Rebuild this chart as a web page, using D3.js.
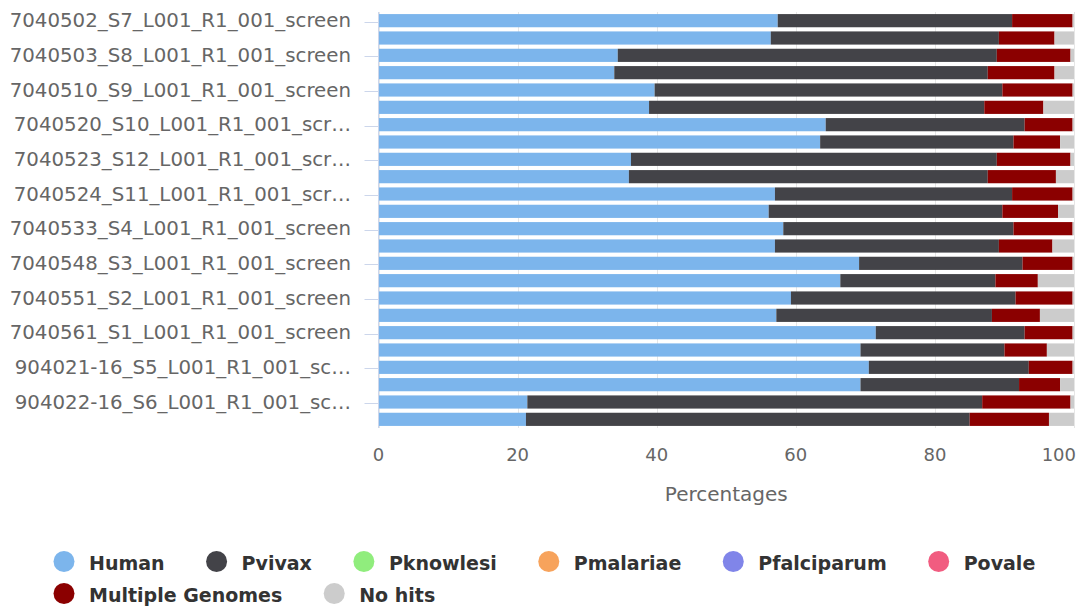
<!DOCTYPE html>
<html>
<head>
<meta charset="utf-8">
<script src="https://cdn.jsdelivr.net/npm/d3@7"></script>
<style>
  html, body { margin: 0; padding: 0; background: #fff; }
  svg { display: block; font-family: "DejaVu Sans", sans-serif; }
</style>
</head>
<body>
<svg id="chart" width="1086" height="607"></svg>
<script>
const categories = [
  "7040502_S7_L001_R1_001_screen", "7040502_S7_L001_R2_001_screen",
  "7040503_S8_L001_R1_001_screen", "7040503_S8_L001_R2_001_screen",
  "7040510_S9_L001_R1_001_screen", "7040510_S9_L001_R2_001_screen",
  "7040520_S10_L001_R1_001_screen", "7040520_S10_L001_R2_001_screen",
  "7040523_S12_L001_R1_001_screen", "7040523_S12_L001_R2_001_screen",
  "7040524_S11_L001_R1_001_screen", "7040524_S11_L001_R2_001_screen",
  "7040533_S4_L001_R1_001_screen", "7040533_S4_L001_R2_001_screen",
  "7040548_S3_L001_R1_001_screen", "7040548_S3_L001_R2_001_screen",
  "7040551_S2_L001_R1_001_screen", "7040551_S2_L001_R2_001_screen",
  "7040561_S1_L001_R1_001_screen", "7040561_S1_L001_R2_001_screen",
  "904021-16_S5_L001_R1_001_screen", "904021-16_S5_L001_R2_001_screen",
  "904022-16_S6_L001_R1_001_screen", "904022-16_S6_L001_R2_001_screen"
];
// labels shown on the category axis (every second category, truncated as in the reference)
const tickLabels = [
  "7040502_S7_L001_R1_001_screen",
  "7040503_S8_L001_R1_001_screen",
  "7040510_S9_L001_R1_001_screen",
  "7040520_S10_L001_R1_001_scr…",
  "7040523_S12_L001_R1_001_scr…",
  "7040524_S11_L001_R1_001_scr…",
  "7040533_S4_L001_R1_001_screen",
  "7040548_S3_L001_R1_001_screen",
  "7040551_S2_L001_R1_001_screen",
  "7040561_S1_L001_R1_001_screen",
  "904021-16_S5_L001_R1_001_sc…",
  "904022-16_S6_L001_R1_001_sc…"
];
const xTicks = [0, 20, 40, 60, 80, 100];

const seriesNames = ["Human", "Pvivax", "Pknowlesi", "Pmalariae", "Pfalciparum", "Povale", "Multiple Genomes", "No hits"];
const seriesColors = ["#7cb5ec", "#434348", "#90ed7d", "#f7a35c", "#8085e9", "#f15c80", "#8b0000", "#cccccc"];

const human = [57.4,56.4,34.4,33.9,39.7,38.9,64.3,63.5,36.3,36.0,57.0,56.1,58.2,57.0,69.1,66.4,59.3,57.2,71.5,69.3,70.5,69.3,21.4,21.2];
const pvivax = [33.7,32.8,54.5,53.7,50.0,48.2,28.6,27.8,52.6,51.6,34.1,33.6,33.1,32.2,23.5,22.3,32.3,31.0,21.4,20.7,23.0,22.8,65.4,63.8];
const pknowlesi = [0,0,0,0,0,0,0,0,0,0,0,0,0,0,0,0,0,0,0,0,0,0,0,0];
const pmalariae = [0,0,0,0,0,0,0,0,0,0,0,0,0,0,0,0,0,0,0,0,0,0,0,0];
const pfalciparum = [0,0,0,0,0,0,0,0,0,0,0,0,0,0,0,0,0,0,0,0,0,0,0,0];
const povale = [0,0,0,0,0,0,0,0,0,0,0,0,0,0,0,0,0,0,0,0,0,0,0,0];
const multipleGenomes = [8.7,8.0,10.6,9.6,10.1,8.5,6.9,6.7,10.6,9.8,8.7,8.0,8.5,7.7,7.2,6.1,8.2,6.9,6.9,6.1,6.3,5.9,12.7,11.4];
const noHits = [0.2,2.8,0.5,2.8,0.2,4.4,0.2,2.0,0.5,2.6,0.2,2.3,0.2,3.1,0.2,5.2,0.2,4.9,0.2,3.9,0.2,2.0,0.5,3.6];

const seriesValues = [human, pvivax, pknowlesi, pmalariae, pfalciparum, povale, multipleGenomes, noHits];

// build table for stacking
const table = categories.map((c, i) => {
  const row = { cat: c };
  seriesNames.forEach((s, k) => { row[s] = seriesValues[k][i]; });
  return row;
});
const stacked = d3.stack().keys(seriesNames)(table);

const svg = d3.select("#chart");
const plot = { left: 378.5, right: 1074, top: 12, bottom: 428 };

const x = d3.scaleLinear().domain([0, 100]).range([plot.left, plot.right]);
const y = d3.scaleBand().domain(categories).range([plot.top, plot.bottom]).paddingInner(0.24).paddingOuter(0.12);

// grid lines
svg.append("g").selectAll("line").data(xTicks).join("line")
  .attr("x1", d => Math.round(x(d)) + 0.5).attr("x2", d => Math.round(x(d)) + 0.5)
  .attr("y1", plot.top).attr("y2", plot.bottom)
  .attr("stroke", "#e6e6e6").attr("stroke-width", 1);

// bars
const layers = svg.append("g").selectAll("g").data(stacked).join("g")
  .attr("fill", (d, i) => seriesColors[i]);
layers.selectAll("rect").data(d => d).join("rect")
  .attr("x", d => x(d[0]))
  .attr("width", d => Math.max(0, x(d[1]) - x(d[0])))
  .attr("y", d => y(d.data.cat))
  .attr("height", y.bandwidth());

// category axis line
svg.append("line")
  .attr("x1", plot.left).attr("x2", plot.left)
  .attr("y1", plot.top).attr("y2", plot.bottom)
  .attr("stroke", "#ccd6eb").attr("stroke-width", 1);

// category ticks + labels (every second category)
const labeled = categories.filter((c, i) => i % 2 === 0);
const yAxisG = svg.append("g");
labeled.forEach((c, j) => {
  const cy = y(c) + y.bandwidth() / 2;
  yAxisG.append("line")
    .attr("x1", plot.left - 14).attr("x2", plot.left)
    .attr("y1", Math.round(cy) + 0.5 + 1).attr("y2", Math.round(cy) + 0.5 + 1)
    .attr("stroke", "#ccd6eb").attr("stroke-width", 1);
  yAxisG.append("text")
    .attr("x", 351).attr("y", cy + 6.5)
    .attr("text-anchor", "end")
    .attr("font-size", "19.8px")
    .attr("fill", "#666666")
    .text(tickLabels[j]);
});

// value axis labels (last one justified inside the chart, as in the reference)
svg.append("g").selectAll("text").data(xTicks).join("text")
  .attr("x", (d, i) => i === xTicks.length - 1 ? plot.right + 2 : x(d)).attr("y", 461)
  .attr("text-anchor", (d, i) => i === xTicks.length - 1 ? "end" : "middle")
  .attr("font-size", "18px")
  .attr("fill", "#666666")
  .text(d => d);

svg.append("text")
  .attr("x", (plot.left + plot.right) / 2).attr("y", 501)
  .attr("text-anchor", "middle")
  .attr("font-size", "20px")
  .attr("fill", "#666666")
  .text("Percentages");

// legend
const legendRows = [[0, 1, 2, 3, 4, 5], [6, 7]];
const rowBase = [570, 602];
legendRows.forEach((row, r) => {
  let cx = 64;
  row.forEach(k => {
    const g = svg.append("g");
    g.append("circle").attr("cx", cx).attr("cy", rowBase[r] - 8.5).attr("r", 10.5).attr("fill", seriesColors[k]);
    const t = g.append("text").attr("x", cx + 25).attr("y", rowBase[r])
      .attr("font-size", "19px").attr("font-weight", "bold").attr("fill", "#333333")
      .text(seriesNames[k]);
    const w = t.node().getComputedTextLength();
    cx = cx + 25 + w + 52;
  });
});
</script>
</body>
</html>
